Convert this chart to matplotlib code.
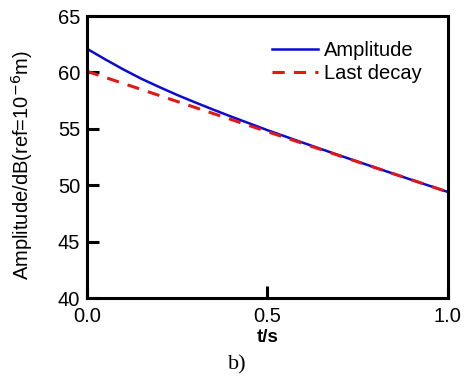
import matplotlib
matplotlib.use("Agg")
import matplotlib.pyplot as plt

t = [0.0, 0.05, 0.1, 0.15, 0.2, 0.25, 0.3, 0.35, 0.4, 0.45, 0.5, 0.6, 0.7, 0.8, 0.9, 1.0]
amplitude = [62.1, 61.17, 60.28, 59.45, 58.71, 58.0, 57.34, 56.7, 56.08, 55.48,
             54.88, 53.75, 52.64, 51.55, 50.47, 49.4]
decay_t = [0.0, 1.0]
last_decay = [60.1, 49.4]

xticks = [0.0, 0.5, 1.0]
yticks = [40, 45, 50, 55, 60, 65]

plt.rcParams['font.family'] = ['Liberation Sans', 'DejaVu Sans']

fig = plt.figure(figsize=(4.7, 3.78), dpi=100)
ax = fig.add_axes([0.185, 0.2116, 0.768, 0.746])

ax.plot(t, amplitude, color='#0a0ad0', lw=1.8, label='Amplitude')
ax.plot(decay_t, last_decay, color='#e01818', lw=2.2, ls=(0, (4, 3)), label='Last decay')

ax.set_xlim(0, 1)
ax.set_ylim(40, 65)
ax.set_xticks(xticks)
ax.set_xticklabels(['%.1f' % v for v in xticks])
ax.set_yticks(yticks)

for s in ax.spines.values():
    s.set_linewidth(2.2)
ax.tick_params(direction='in', length=8.5, width=2.2, labelsize=14.5, pad=5)
ax.tick_params(axis='x', pad=6.5)

ax.set_ylabel('Amplitude/dB(ref=10$^{-6}$m)', fontsize=14.5)
ax.yaxis.set_label_coords(-0.145, 0.47)
ax.set_xlabel('t/s', fontsize=13.5, fontweight='bold', labelpad=2)

ax.legend(loc='upper left', bbox_to_anchor=(0.5125, 0.91), frameon=False,
          fontsize=14.5, handlelength=2.3, handletextpad=0.3,
          borderaxespad=0, borderpad=0, labelspacing=0.2)

fig.text(0.504, 0.0344, 'b)', fontsize=16, family='Liberation Serif', ha='center', va='center')

fig.savefig('out.png', dpi=100)
